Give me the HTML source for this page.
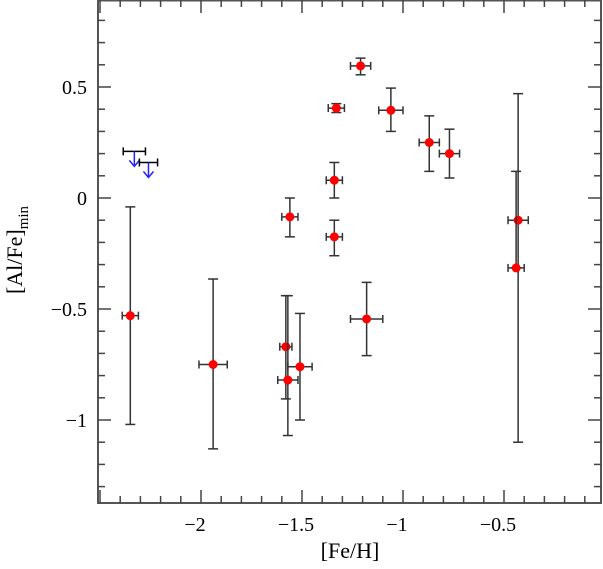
<!DOCTYPE html>
<html><head><meta charset="utf-8"><style>
html,body{margin:0;padding:0;background:#fff;}
svg text{font-family:"Liberation Serif",serif;}
</style></head><body>
<svg id="chart" width="603" height="564" xmlns="http://www.w3.org/2000/svg">
<g id="axes"></g>
<g id="marks"></g>
<text x="350" y="558" font-size="22" text-anchor="middle">[Fe/H]</text>
<text transform="translate(22,250) rotate(-90)" font-size="22" text-anchor="middle">[Al/Fe]<tspan font-size="15" dy="6">min</tspan></text>
</svg>
<script>
const feh   = [-2.35,-1.94,-1.56,-1.34,-1.34,-1.33,-1.21,-1.06,-0.87,-0.77,-0.43,-0.44,-1.18,-1.58,-1.51,-1.57];
const alfe  = [-0.53,-0.75,-0.085,-0.175,0.08,0.405,0.595,0.395,0.25,0.2,-0.1,-0.315,-0.545,-0.67,-0.76,-0.82];
const errHi = [-0.04,-0.365,0.0,-0.1,0.16,0.425,0.63,0.495,0.37,0.31,0.47,0.12,-0.38,-0.44,-0.52,-0.44];
const errLo = [-1.02,-1.13,-0.175,-0.26,0.0,0.385,0.555,0.3,0.12,0.09,-1.10,-0.315,-0.71,-0.905,-1.0,-1.07];
const xErr  = [0.04,0.07,0.04,0.04,0.04,0.04,0.05,0.06,0.05,0.05,0.05,0.04,0.08,0.03,0.06,0.05];
const limFeh = [-2.33,-2.26];
const limAl  = [0.21,0.16];
const limXErr = [0.055,0.045];
const xTicks = [-2,-1.5,-1,-0.5];
const xTickLabels = ["\u22122","\u22121.5","\u22121","\u22120.5"];
const yTicks = [0.5,0,-0.5,-1];
const yTickLabels = ["0.5","0","\u22120.5","\u22121"];

const L=98,R=601,T=0,B=503;
const X=v=>201+(v+2)*202;
const Y=v=>198-v*222;
const NS="http://www.w3.org/2000/svg";
function mk(parent,tag,attrs){const e=document.createElementNS(NS,tag);for(const k in attrs)e.setAttribute(k,attrs[k]);parent.appendChild(e);return e;}
const axes=document.getElementById('axes'), marks=document.getElementById('marks');

const frame=mk(axes,'rect',{x:L,y:T+0.5,width:R-L,height:B-T-0.5,fill:'none',stroke:'#555','stroke-width':2});



for(let i=-25;i<=0;i++){
  const v=i/10, x=X(v); if(x<L||x>R) continue;
  const major=(i%5===0), len=major?13:7;
  const t1=mk(axes,'line',{x1:x,x2:x,y1:B,y2:B-len,stroke:'#444','stroke-width':1.5});
  
  
  const t2=mk(axes,'line',{x1:x,x2:x,y1:T,y2:T+len,stroke:'#444','stroke-width':1.5});
  
  
}
for(let i=-13;i<=8;i++){
  const v=i/10, y=Y(v); if(y<T||y>B) continue;
  const major=(i%5===0), len=major?13:7;
  const t1=mk(axes,'line',{x1:L,x2:L+len,y1:y,y2:y,stroke:'#444','stroke-width':1.5});
  
  
  const t2=mk(axes,'line',{x1:R,x2:R-len,y1:y,y2:y,stroke:'#444','stroke-width':1.5});
  
  
}
xTicks.forEach((v,i)=>{
  const t=mk(axes,'text',{x:X(v)-6,y:531,'font-size':20,'text-anchor':'middle','font-family':'Liberation Sans, sans-serif'});
  t.textContent=xTickLabels[i];
  
  
});
yTicks.forEach((v,i)=>{
  const t=mk(axes,'text',{x:87,y:Y(v)+7,'font-size':20,'text-anchor':'end','font-family':'Liberation Sans, sans-serif'});
  t.textContent=yTickLabels[i];
  
  
});

const ec='#333';
feh.forEach((v,i)=>{
  const g=mk(marks,'g',{});
  
  
  const x=X(v), y=Y(alfe[i]), x1=X(v-xErr[i]), x2=X(v+xErr[i]), yh=Y(errHi[i]), yl=Y(errLo[i]);
  mk(g,'line',{x1:x,x2:x,y1:yh,y2:yl,stroke:ec,'stroke-width':1.5});
  mk(g,'line',{x1:x-5,x2:x+5,y1:yh,y2:yh,stroke:ec,'stroke-width':1.5});
  mk(g,'line',{x1:x-5,x2:x+5,y1:yl,y2:yl,stroke:ec,'stroke-width':1.5});
  mk(g,'line',{x1:x1,x2:x2,y1:y,y2:y,stroke:ec,'stroke-width':1.5});
  mk(g,'line',{x1:x1,x2:x1,y1:y-4,y2:y+4,stroke:ec,'stroke-width':1.5});
  mk(g,'line',{x1:x2,x2:x2,y1:y-4,y2:y+4,stroke:ec,'stroke-width':1.5});
  mk(g,'circle',{cx:x,cy:y,r:4.5,fill:'#f00'});
});
limFeh.forEach((v,i)=>{
  const g=mk(marks,'g',{});
  
  
  const x=X(v), y=Y(limAl[i]), x1=X(v-limXErr[i]), x2=X(v+limXErr[i]);
  mk(g,'line',{x1:x1,x2:x2,y1:y,y2:y,stroke:'#000','stroke-width':1.5});
  mk(g,'line',{x1:x1,x2:x1,y1:y-4,y2:y+4,stroke:'#000','stroke-width':1.5});
  mk(g,'line',{x1:x2,x2:x2,y1:y-4,y2:y+4,stroke:'#000','stroke-width':1.5});
  mk(g,'line',{x1:x,x2:x,y1:y,y2:y+15,stroke:'#22f','stroke-width':1.5});
  mk(g,'polyline',{points:`${x-5},${y+9} ${x},${y+15} ${x+5},${y+9}`,fill:'none',stroke:'#22f','stroke-width':1.5});
});
</script>
</body></html>
